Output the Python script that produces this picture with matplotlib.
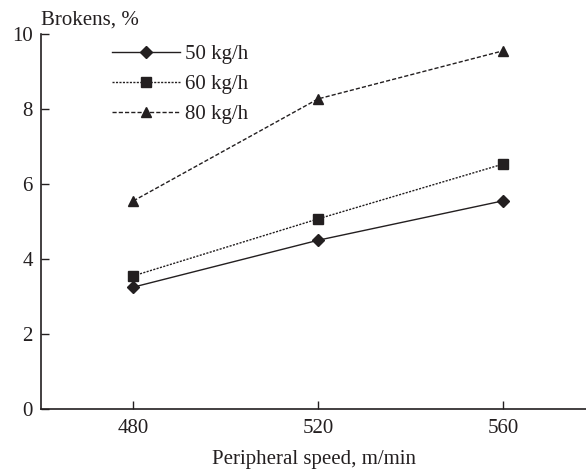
import matplotlib
matplotlib.use("Agg")
import matplotlib.pyplot as plt

plt.rcParams["font.family"] = ["Liberation Serif", "DejaVu Serif"]

speed = [480, 520, 560]
broken_50 = [3.25, 4.50, 5.55]
broken_60 = [3.55, 5.07, 6.53]
broken_80 = [5.55, 8.27, 9.55]
labels = ["50 kg/h", "60 kg/h", "80 kg/h"]

INK = "#231f20"

fig = plt.figure(figsize=(5.86, 4.70), dpi=100)
ax = fig.add_axes([41 / 586, 61 / 470, 545 / 586, 375 / 470])

ax.plot(speed, broken_50, color=INK, lw=1.0, ls="-", marker="D", ms=6, label=labels[0])
ax.plot(speed, broken_60, color=INK, lw=1.0, ls=(0, (1.5, 1)), marker="s", ms=7, label=labels[1])
ax.plot(speed, broken_80, color=INK, lw=1.0, ls=(0, (3, 1.5)), marker="^", ms=7, label=labels[2])

ax.set_xlim(460, 578)
ax.set_ylim(0, 10)
ax.set_xticks(speed)
ax.set_yticks([0, 2, 4, 6, 8, 10])
ax.tick_params(direction="in", length=6, width=1, colors=INK, labelsize=15, pad=7)
ax.tick_params(axis="y", pad=6)
for side in ("top", "right"):
    ax.spines[side].set_visible(False)
for side in ("left", "bottom"):
    ax.spines[side].set_color(INK)
    ax.spines[side].set_linewidth(1.2)

ax.set_xlabel("Peripheral speed, m/min", fontsize=15, color=INK, labelpad=9)
ax.text(0, 1.012, "Brokens, %", transform=ax.transAxes, fontsize=15, color=INK,
        ha="left", va="bottom")

ax.legend(loc="upper left", bbox_to_anchor=(0.095, 1.022), frameon=False, fontsize=15,
          handlelength=3.3, handletextpad=0.25, labelspacing=0.5, labelcolor=INK)

fig.savefig("out.png", dpi=100)
